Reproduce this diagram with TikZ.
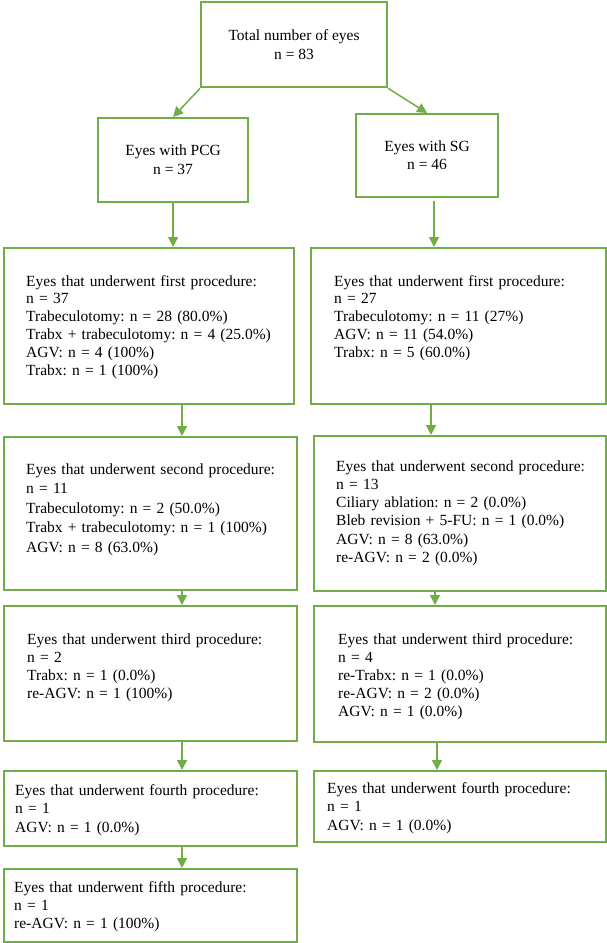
\documentclass[tikz,border=0pt]{standalone}
\usepackage{fontspec}
\setmainfont{Liberation Serif}
\usetikzlibrary{arrows.meta}
\definecolor{grn}{HTML}{70AD47}
\frenchspacing
\begin{document}
\begin{tikzpicture}[x=1pt,y=-1pt,
  box/.style={draw=grn, line width=2.2pt, inner sep=0pt, anchor=north west},
  ctext/.style={align=center, font=\fontsize{15.5}{19}\selectfont\frenchspacing},
  ltext/.style={anchor=base west, inner sep=0pt, text width=285pt, align=left},
  arr/.style={draw=grn, line width=1.5pt, -{Triangle[length=10pt,width=10pt]}}]
\useasboundingbox (0,0) rectangle (607,943);
% boxes
\node[box, ctext, minimum width=186pt, minimum height=85pt] (top) at (200,1.2) {Total number of eyes\\n = 83};
\node[box, ctext, minimum width=150pt, minimum height=84pt] (pcg) at (97,117) {Eyes with PCG\\n = 37};
\node[box, ctext, minimum width=142pt, minimum height=83pt, font=\fontsize{15.5}{18}\selectfont] (sg) at (355,113) {Eyes with SG\\n = 46};
\node[box, minimum width=290pt, minimum height=156pt] (p1) at (3,247) {};
\node[box, minimum width=295pt, minimum height=156pt] (s1) at (310,247) {};
\node[box, minimum width=293pt, minimum height=153pt] (p2) at (3,436) {};
\node[box, minimum width=292pt, minimum height=155pt] (s2) at (313,435) {};
\node[box, minimum width=293pt, minimum height=135pt] (p3) at (3,605) {};
\node[box, minimum width=292pt, minimum height=136pt] (s3) at (313,605) {};
\node[box, minimum width=293pt, minimum height=75pt] (p4) at (3,770) {};
\node[box, minimum width=292pt, minimum height=71pt] (s4) at (313,770) {};
\node[box, minimum width=293pt, minimum height=73pt] (p5) at (3,868) {};
% texts
\node[ltext, font=\fontsize{15.5}{17.9}\selectfont\frenchspacing] (p1t) at (26,286) {Eyes that underwent first procedure:\\n = 37\\Trabeculotomy: n = 28 (80.0\%)\\Trabx + trabeculotomy: n = 4 (25.0\%)\\AGV: n = 4 (100\%)\\Trabx: n = 1 (100\%)};
\node[ltext, font=\fontsize{15.5}{17.9}\selectfont\frenchspacing] (s1t) at (334,286) {Eyes that underwent first procedure:\\n = 27\\Trabeculotomy: n = 11 (27\%)\\AGV: n = 11 (54.0\%)\\Trabx: n = 5 (60.0\%)};
\node[ltext, font=\fontsize{15.5}{19.6}\selectfont\frenchspacing] (p2t) at (26,474) {Eyes that underwent second procedure:\\n = 11\\Trabeculotomy: n = 2 (50.0\%)\\Trabx + trabeculotomy: n = 1 (100\%)\\AGV: n = 8 (63.0\%)};
\node[ltext, font=\fontsize{15.5}{18.3}\selectfont\frenchspacing] (s2t) at (336,471) {Eyes that underwent second procedure:\\n = 13\\Ciliary ablation: n = 2 (0.0\%)\\Bleb revision + 5-FU: n = 1 (0.0\%)\\AGV: n = 8 (63.0\%)\\re-AGV: n = 2 (0.0\%)};
\node[ltext, font=\fontsize{15.5}{18}\selectfont\frenchspacing] (p3t) at (27,644) {Eyes that underwent third procedure:\\n = 2\\Trabx: n = 1 (0.0\%)\\re-AGV: n = 1 (100\%)};
\node[ltext, font=\fontsize{15.5}{18}\selectfont\frenchspacing] (s3t) at (338,644) {Eyes that underwent third procedure:\\n = 4\\re-Trabx: n = 1 (0.0\%)\\re-AGV: n = 2 (0.0\%)\\AGV: n = 1 (0.0\%)};
\node[ltext, font=\fontsize{15.5}{18.5}\selectfont\frenchspacing] (p4t) at (15,795) {Eyes that underwent fourth procedure:\\n = 1\\AGV: n = 1 (0.0\%)};
\node[ltext, font=\fontsize{15.5}{18.5}\selectfont\frenchspacing] (s4t) at (327,793) {Eyes that underwent fourth procedure:\\n = 1\\AGV: n = 1 (0.0\%)};
\node[ltext, font=\fontsize{15.5}{18}\selectfont\frenchspacing] (p5t) at (14,892) {Eyes that underwent fifth procedure:\\n = 1\\re-AGV: n = 1 (100\%)};
% connectors
\coordinate (xl) at (182,0);
\coordinate (xr0) at (434,0);
\coordinate (xr1) at (431,0);
\coordinate (xr2) at (435,0);
\coordinate (xr3) at (437,0);
\coordinate (sgb) at ([yshift=-3pt]sg.south);
\draw[arr] (top.south west) -- (pcg.north);
\draw[arr] (top.south east) -- (sg.north);
\draw[arr] (pcg.south) -- (pcg.south |- p1.north);
\draw[arr] (sgb -| xr0) -- (s1.north -| xr0);
\draw[arr] (p1.south -| xl) -- (p2.north -| xl);
\draw[arr] (p2.south -| xl) -- (p3.north -| xl);
\draw[arr] (p3.south -| xl) -- (p4.north -| xl);
\draw[arr] (p4.south -| xl) -- (p5.north -| xl);
\draw[arr] (s1.south -| xr1) -- (s2.north -| xr1);
\draw[arr] (s2.south -| xr2) -- (s3.north -| xr2);
\draw[arr] (s3.south -| xr3) -- (s4.north -| xr3);
\end{tikzpicture}
\end{document}
